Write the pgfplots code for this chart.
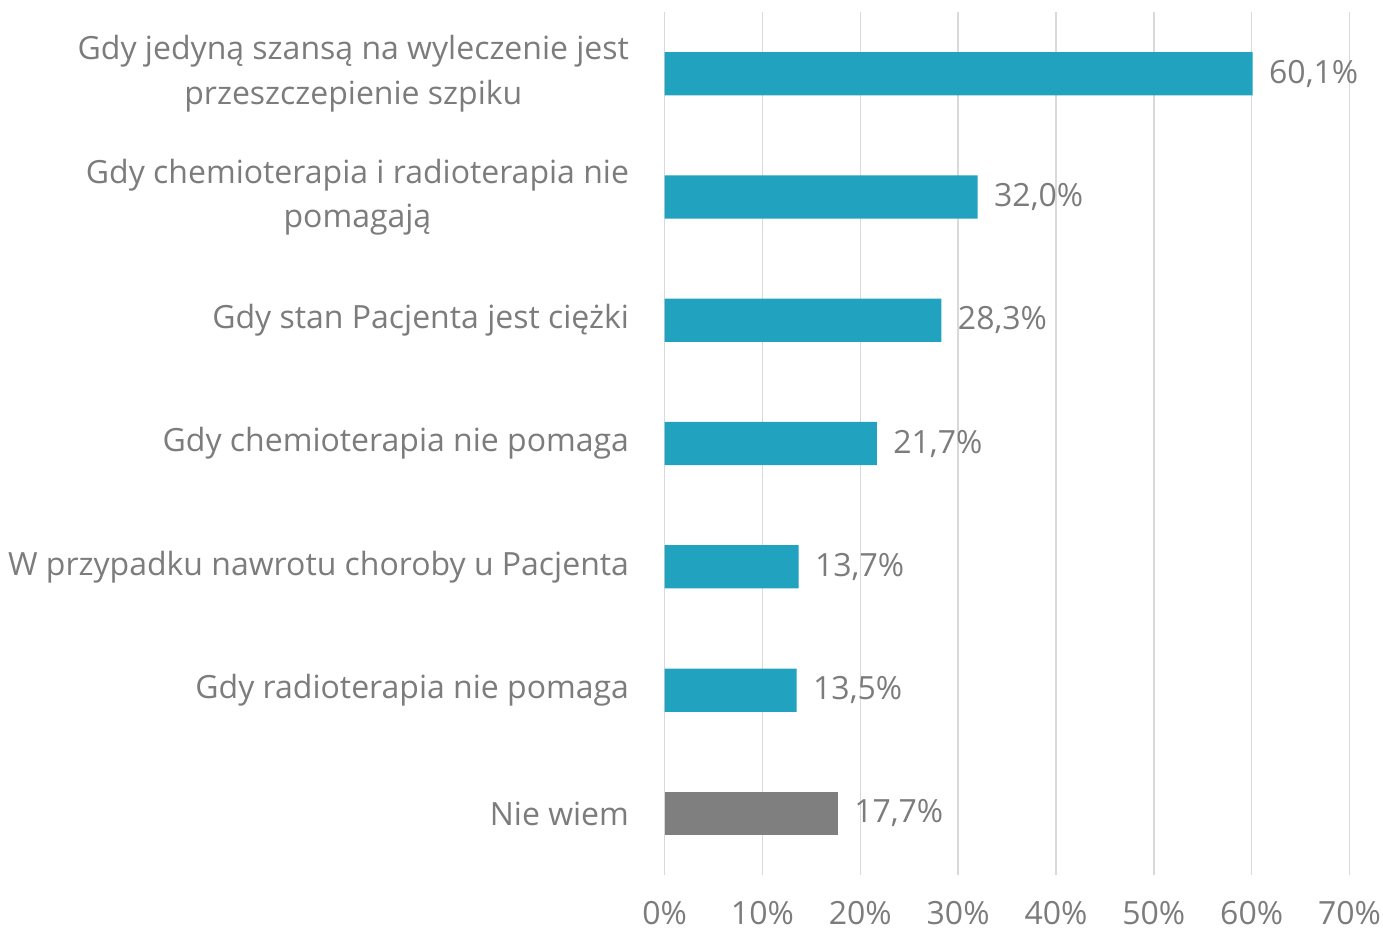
\documentclass[border=0pt]{standalone}
\usepackage{pgfplots}
\pgfplotsset{compat=1.18}
\usepackage{fontspec}
\setmainfont{Open Sans}
\definecolor{barblue}{HTML}{21A2BF}
\definecolor{bargray}{HTML}{7F7F7F}
\definecolor{txt}{HTML}{7C7C7C}
\definecolor{gridc}{HTML}{D9D9D9}
\begin{document}
\begin{tikzpicture}
\begin{axis}[
  xbar, scale only axis, width=340.5pt, height=429pt,
  xmin=0, xmax=70, ymin=-0.5, ymax=6.5, y dir=reverse,
  bar width=21.5pt,
  axis line style={draw=none},
  xtick={0,10,...,70},
  xticklabel={\pgfmathprintnumber{\tick}\%},
  ytick={0,...,6},
  yticklabels={{Gdy jedyną szansą na wyleczenie jest\\przeszczepienie szpiku},
    {Gdy chemioterapia i radioterapia nie\\pomagają},
    {Gdy stan Pacjenta jest ciężki},
    {Gdy chemioterapia nie pomaga},
    {W przypadku nawrotu choroby u Pacjenta},
    {Gdy radioterapia nie pomaga},
    {Nie wiem}},
  major tick length=0pt,
  xmajorgrids, grid style={gridc, line width=0.75pt},
  /pgf/number format/assume math mode=true,
  tick label style={font=\fontsize{15.9}{22}\selectfont, text=txt},
  yticklabel style={align=center, inner sep=0pt, xshift=-17.5pt},
  xticklabel style={inner sep=1pt, yshift=-12pt},
  nodes near coords={\pgfmathprintnumber[fixed, fixed zerofill, precision=1, use comma]{\pgfplotspointmeta}\%},
  nodes near coords style={anchor=west, inner sep=0pt, xshift=8pt, font=\fontsize{15.9}{19}\selectfont, text=txt,
    /pgf/number format/assume math mode=true},
  point meta=explicit,
]
\addplot[fill=barblue, draw=none, bar shift=0pt] coordinates {
  (60.1,0) [60.1]
  (32.0,1) [32.0]
  (28.3,2) [28.3]
  (21.7,3) [21.7]
  (13.7,4) [13.7]
  (13.5,5) [13.5]
};
\addplot[fill=bargray, draw=none, bar shift=0pt] coordinates {
  (17.7,6) [17.7]
};
\end{axis}
\path ([yshift=6pt]current axis.north);
\path ([yshift=-1.5pt]current axis.outer south);
\path ([xshift=-4pt]current axis.outer west);
\end{tikzpicture}
\end{document}
